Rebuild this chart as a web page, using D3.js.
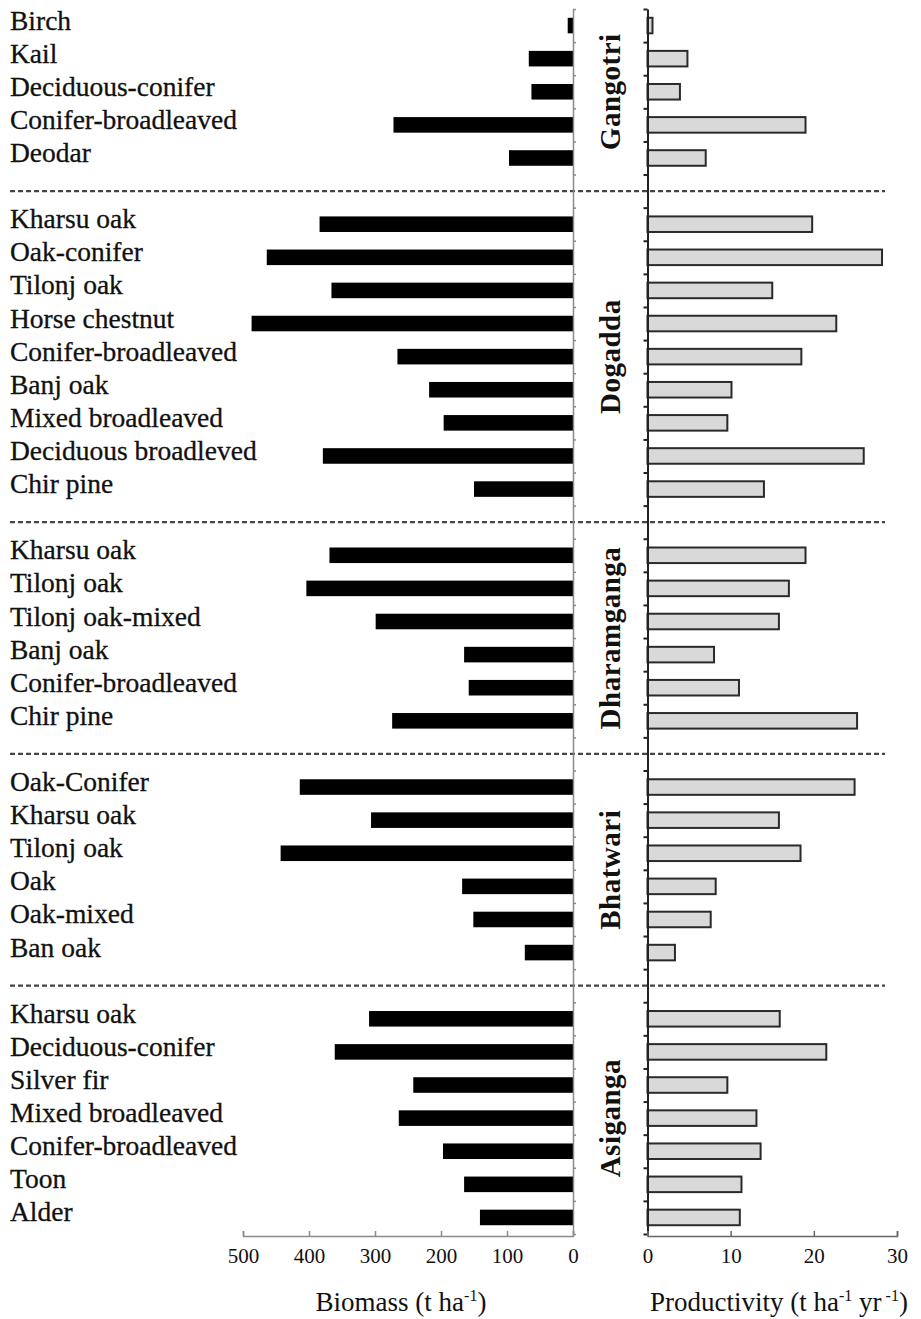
<!DOCTYPE html>
<html>
<head>
<meta charset="utf-8">
<script src="https://cdn.jsdelivr.net/npm/d3@7"></script>
<style>
  html, body { margin: 0; padding: 0; background: #fff; }
  svg { display: block; }
  svg text { font-family: "Liberation Serif", "Times New Roman", serif; }
</style>
</head>
<body>
<svg id="chart" width="921" height="1319"></svg>
<script>
// ---------------- data ----------------
const groups = ["Gangotri", "Dogadda", "Dharamganga", "Bhatwari", "Asiganga"];
const categories = [
  "Birch", "Kail", "Deciduous-conifer", "Conifer-broadleaved", "Deodar",
  "Kharsu oak", "Oak-conifer", "Tilonj oak", "Horse chestnut", "Conifer-broadleaved",
  "Banj oak", "Mixed broadleaved", "Deciduous broadleved", "Chir pine",
  "Kharsu oak", "Tilonj oak", "Tilonj oak-mixed", "Banj oak", "Conifer-broadleaved", "Chir pine",
  "Oak-Conifer", "Kharsu oak", "Tilonj oak", "Oak", "Oak-mixed", "Ban oak",
  "Kharsu oak", "Deciduous-conifer", "Silver fir", "Mixed broadleaved", "Conifer-broadleaved", "Toon", "Alder"
];
const categoryGroup = [
  0, 0, 0, 0, 0,
  1, 1, 1, 1, 1, 1, 1, 1, 1,
  2, 2, 2, 2, 2, 2,
  3, 3, 3, 3, 3, 3,
  4, 4, 4, 4, 4, 4, 4
];
const biomass = [
  8, 67, 63, 272, 97,
  384, 464, 366, 487, 266, 218, 196, 379, 150,
  369, 404, 299, 165, 158, 274,
  414, 306, 443, 168, 151, 73,
  309, 361, 242, 264, 197, 165, 141
];
const productivity = [
  0.6, 4.8, 3.9, 19.0, 7.0,
  19.8, 28.2, 15.0, 22.7, 18.5, 10.1, 9.6, 26.0, 14.0,
  19.0, 17.0, 15.8, 8.0, 11.0, 25.2,
  24.9, 15.8, 18.4, 8.2, 7.6, 3.3,
  15.9, 21.5, 9.6, 13.1, 13.6, 11.3, 11.1
];
const biomassTicks = [500, 400, 300, 200, 100, 0];
const productivityTicks = [0, 10, 20, 30];

// ---------------- layout ----------------
const FONT = "'Liberation Serif', 'Times New Roman', serif";
const svg = d3.select("#chart");

// rows: each group followed by a blank spacer row (except last)
const rows = [];
categories.forEach((c, i) => {
  if (i > 0 && categoryGroup[i] !== categoryGroup[i - 1]) rows.push({ blank: true });
  rows.push({ blank: false, i: i });
});
const nRows = rows.length;

const yTop = 9, yBottom = 1234;
const y = d3.scaleBand().domain(d3.range(nRows)).range([yTop, yBottom]).paddingInner(0.53).paddingOuter(0.265);
const yb = d3.scaleLinear().domain([0, nRows]).range([yTop, yBottom]);

const xB = d3.scaleLinear().domain([0, 500]).range([573, 243]);
const xP = d3.scaleLinear().domain([0, 30]).range([647.5, 897]);

const rowIndexOf = {};
rows.forEach((r, k) => { if (!r.blank) rowIndexOf[r.i] = k; });

// dashed separators
rows.forEach((r, k) => {
  if (r.blank) {
    const yy = yb(k + 0.5);
    svg.append("line")
      .attr("x1", 10).attr("x2", 885)
      .attr("y1", yy).attr("y2", yy)
      .attr("stroke", "#444").attr("stroke-width", 2.2)
      .attr("stroke-dasharray", "5,3");
  }
});

// biomass bars
svg.append("g").selectAll("rect").data(categories).join("rect")
  .attr("x", (d, i) => xB(biomass[i]))
  .attr("width", (d, i) => xB(0) - xB(biomass[i]))
  .attr("y", (d, i) => y(rowIndexOf[i]))
  .attr("height", y.bandwidth())
  .attr("fill", "#000");

// productivity bars
svg.append("g").selectAll("rect").data(categories).join("rect")
  .attr("x", xP(0))
  .attr("width", (d, i) => xP(productivity[i]) - xP(0))
  .attr("y", (d, i) => y(rowIndexOf[i]))
  .attr("height", y.bandwidth())
  .attr("fill", "#d9d9d9")
  .attr("stroke", "#2a2a2a")
  .attr("stroke-width", 2);

// category labels
svg.append("g").selectAll("text").data(categories).join("text")
  .attr("x", 10)
  .attr("y", (d, i) => yb(rowIndexOf[i] + 0.5) + 4)
  .attr("font-family", FONT)
  .attr("font-size", 27.5)
  .attr("fill", "#111")
  .attr("stroke", "#111").attr("stroke-width", 0.3)
  .text(d => d);

// vertical axes
const rowTicks = d3.range(nRows + 1);
const leftAxis = svg.append("g").attr("transform", `translate(${xB(0)},0)`)
  .call(d3.axisRight(yb).tickValues(rowTicks).tickFormat("").tickSizeInner(3).tickSizeOuter(0));
leftAxis.selectAll("path,line").attr("stroke", "#8a8a8a").attr("stroke-width", 1.5);

const rightAxis = svg.append("g").attr("transform", `translate(${xP(0)},0)`)
  .call(d3.axisLeft(yb).tickValues(rowTicks).tickFormat("").tickSizeInner(4).tickSizeOuter(0));
rightAxis.selectAll("path,line").attr("stroke", "#222").attr("stroke-width", 2);

// group labels (rotated)
groups.forEach((g, gi) => {
  const idx = categories.map((c, i) => i).filter(i => categoryGroup[i] === gi);
  const k0 = rowIndexOf[idx[0]], k1 = rowIndexOf[idx[idx.length - 1]];
  const cy = (yb(k0) + yb(k1 + 1)) / 2;
  svg.append("text")
    .attr("transform", `translate(610,${cy}) rotate(-90)`)
    .attr("text-anchor", "middle")
    .attr("dominant-baseline", "central")
    .attr("font-family", FONT)
    .attr("font-size", 29)
    .attr("font-weight", "bold")
    .attr("fill", "#111")
    .style("letter-spacing", "0.5px")
    .text(g);
});

// bottom axes
const axisY = 1236;
const bAxis = svg.append("g").attr("transform", `translate(0,${axisY})`)
  .call(d3.axisBottom(xB).tickValues(biomassTicks).tickSizeInner(-5).tickSizeOuter(-5).tickPadding(12));
bAxis.attr("font-family", FONT);
bAxis.selectAll("path,line").attr("stroke", "#8a8a8a").attr("stroke-width", 1.5);
bAxis.selectAll("text").attr("font-size", 21).attr("fill", "#111").attr("font-family", FONT);

const pAxis = svg.append("g").attr("transform", `translate(0,${axisY})`)
  .call(d3.axisBottom(xP).tickValues(productivityTicks).tickSizeInner(-5).tickSizeOuter(-5).tickPadding(12));
pAxis.attr("font-family", FONT);
pAxis.selectAll("path,line").attr("stroke", "#666").attr("stroke-width", 1.5);
pAxis.selectAll("text").attr("font-size", 21).attr("fill", "#111").attr("font-family", FONT);

// axis titles
const t1 = svg.append("text").attr("x", 401).attr("y", 1311).attr("text-anchor", "middle")
  .attr("font-family", FONT).attr("font-size", 27).attr("fill", "#111");
t1.append("tspan").text("Biomass (t ha");
t1.append("tspan").attr("font-size", 16).attr("dy", -10).text("-1");
t1.append("tspan").attr("dy", 10).text(")");

const t2 = svg.append("text").attr("x", 779).attr("y", 1311).attr("text-anchor", "middle")
  .attr("font-family", FONT).attr("font-size", 27).attr("fill", "#111");
t2.append("tspan").text("Productivity (t ha");
t2.append("tspan").attr("font-size", 16).attr("dy", -10).text("-1");
t2.append("tspan").attr("dy", 10).text(" yr");
t2.append("tspan").attr("font-size", 16).attr("dy", -10).text(" -1");
t2.append("tspan").attr("dy", 10).text(")");
</script>
</body>
</html>
